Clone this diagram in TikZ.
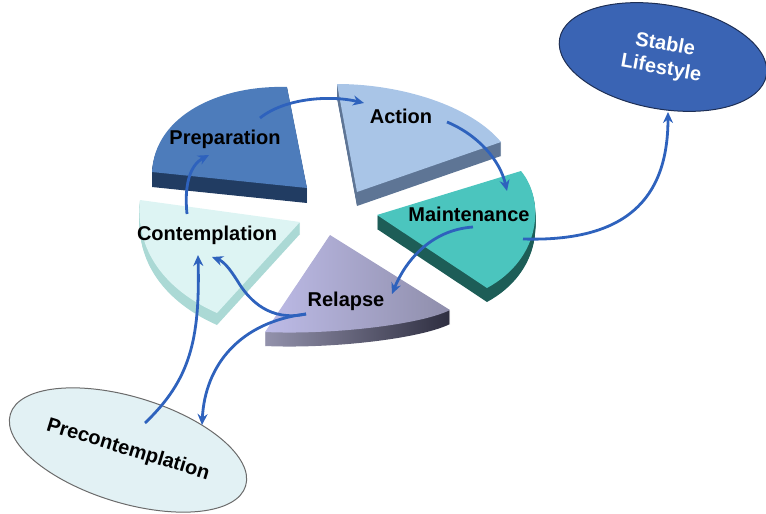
\documentclass[tikz,border=0pt]{standalone}
\usepackage{fontspec}
\setmainfont{Liberation Sans}
\usetikzlibrary{shapes.geometric,arrows.meta}

\definecolor{prepTop}{HTML}{4D7CBB}
\definecolor{prepSide}{HTML}{213C62}
\definecolor{actTop}{HTML}{A9C5E7}
\definecolor{actSide}{HTML}{5E7595}
\definecolor{mntTop}{HTML}{4BC5BE}
\definecolor{mntSide}{HTML}{1D5D57}
\definecolor{relTopL}{HTML}{BDBBE7}
\definecolor{relTopM}{HTML}{C9C7F0}
\definecolor{relTopR}{HTML}{8F8EAB}
\definecolor{relSideL}{HTML}{9392AC}
\definecolor{relSideR}{HTML}{2E2E40}
\definecolor{ctmTop}{HTML}{DDF4F3}
\definecolor{ctmSide}{HTML}{ABD9D5}
\definecolor{flowBlue}{HTML}{2E62BD}
\definecolor{stableFill}{HTML}{3A64B4}
\definecolor{stableEdge}{HTML}{1E2F55}
\definecolor{preFill}{HTML}{E2F1F4}
\definecolor{preEdge}{HTML}{6B6B6B}

\begin{document}
\begin{tikzpicture}[x=1pt,y=-1pt,
  lbl/.style={font=\bfseries\fontsize{20}{22}\selectfont, text=black, inner sep=0pt},
  flow/.style={draw=flowBlue, line width=2.8pt, -{Stealth[length=11pt,width=10pt]}},
  bubble/.style={ellipse, line width=1pt, inner sep=0pt, align=center,
    font=\bfseries\fontsize{20}{24}\selectfont},
  % top faces of the five pie slices
  prepface/.style={insert path={(152,172) .. controls (155,115) and (220,85) .. (287,87) -- (307,188) -- cycle}},
  actface/.style={insert path={(337,84) .. controls (400,84) and (470,105) .. (501,142) -- (357,192) -- cycle}},
  mntface/.style={insert path={(377,215) -- (521,171) .. controls (545,200) and (542,258) .. (487,288) -- cycle}},
  relface/.style={insert path={(330,235) -- (450,310) .. controls (420,325) and (330,335) .. (265,332) -- cycle}},
  ctmface/.style={insert path={(140,200) -- (300,222) -- (217,313) .. controls (165,290) and (135,250) .. (140,200) -- cycle}},
]
\useasboundingbox (0,0) rectangle (766,514);

% goal and starting ellipses
\node[bubble, draw=stableEdge, fill=stableFill, text=white,
      minimum width=210pt, minimum height=104pt, rotate=-10] (stable) at (663,57) {Stable\\Lifestyle};
\node[bubble, draw=preEdge, fill=preFill, text=black,
      minimum width=246pt, minimum height=106pt, rotate=-17] (precon) at (128,450) {Precontemplation};

% slab thickness: stacked copies of each face in the side colour
\foreach \d in {1,...,15} {
  \fill[prepSide, shift={(0,\d)}, prepface];
}
\foreach \d in {1,...,14} {
  \fill[actSide, shift={(0,\d)}, actface];
  \fill[mntSide, shift={(0,\d)}, mntface];
  \shade[left color=relSideL, right color=relSideR, shift={(0,\d)}, relface];
}
\foreach \d in {1,...,12} {
  \fill[ctmSide, shift={(0,\d)}, ctmface];
}

% top faces
\fill[prepTop, prepface];
\fill[actTop, actface];
\fill[mntTop, mntface];
\shade[left color=relTopL, middle color=relTopM, right color=relTopR, relface];
\fill[ctmTop, ctmface];

% stage labels
\node[lbl] (prep) at (225,139) {Preparation};
\node[lbl] (act) at (401,116) {Action};
\node[lbl] (mnt) at (469,214) {Maintenance};
\node[lbl] (ctm) at (207,235) {Contemplation};
\node[lbl] (rel) at (346,301) {Relapse};

% connector end points
\coordinate (prep-out) at (260,118);
\coordinate (act-in) at (364,103);
\coordinate (act-out) at (447,122);
\coordinate (mnt-in) at (507,191);
\coordinate (mnt-out) at (473,227);
\coordinate (mnt-exit) at (523,239);
\coordinate (rel-in) at (392,294);
\coordinate (rel-out) at (306,314);
\coordinate (ctm-in1) at (198,255);
\coordinate (ctm-in2) at (212,257);
\coordinate (ctm-out) at (187,214);
\coordinate (prep-in) at (209,155);
\coordinate (pre-out) at (145,423);
\coordinate (pre-in) at (202,425);
\coordinate (stab-in) at (668,112);

% transitions between stages
\draw[flow] (prep-out) .. controls (285,98) and (330,95) .. (act-in);
\draw[flow] (act-out) .. controls (478,135) and (500,160) .. (mnt-in);
\draw[flow] (mnt-out) .. controls (430,230) and (405,262) .. (rel-in);
\draw[flow] (mnt-exit) .. controls (625,242) and (668,200) .. (stab-in);
\draw[flow] (rel-out) .. controls (270,322) and (250,300) .. (240,285)
            .. controls (232,272) and (225,262) .. (ctm-in2);
\draw[flow] (rel-out) .. controls (240,322) and (205,365) .. (pre-in);
\draw[flow] (pre-out) .. controls (190,380) and (200,340) .. (ctm-in1);
\draw[flow] (ctm-out) .. controls (184,185) and (190,165) .. (prep-in);
\end{tikzpicture}
\end{document}
